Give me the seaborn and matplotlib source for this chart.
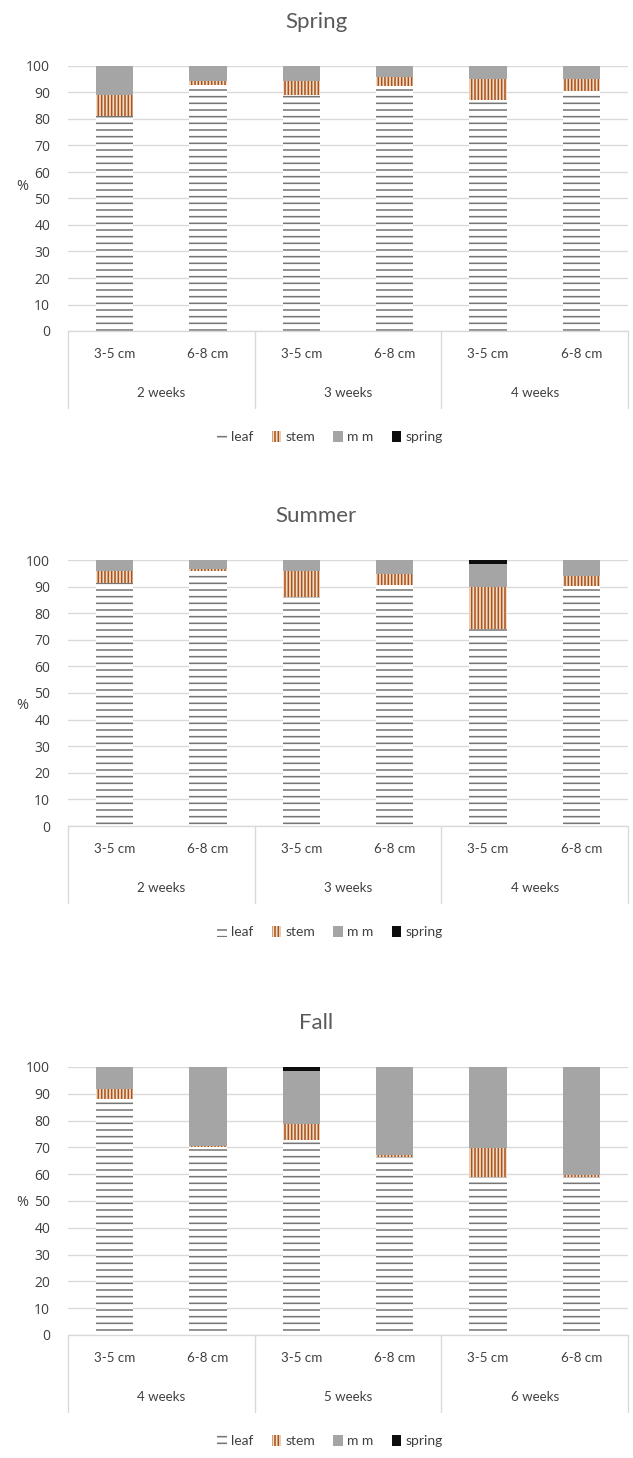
import pandas as pd
import seaborn as sns
from matplotlib import pyplot as plt
from matplotlib.patches import Patch
import matplotlib.transforms as mtransforms

# values (percent of each bar)
sizes = ["3-5 cm", "6-8 cm"]
spring_groups = ["2 weeks", "3 weeks", "4 weeks"]
summer_groups = ["2 weeks", "3 weeks", "4 weeks"]
fall_groups = ["4 weeks", "5 weeks", "6 weeks"]

spring_leaf = [81, 93, 89, 92.5, 87, 90.5]
spring_stem = [8, 1.3, 5.3, 3.5, 8, 4.5]
spring_mm = [11, 5.7, 5.7, 4, 5, 5]
spring_spring = [0, 0, 0, 0, 0, 0]

summer_leaf = [91.5, 96, 86, 90.5, 74.2, 90.3]
summer_stem = [4.5, 0.7, 10, 4.3, 15.5, 3.7]
summer_mm = [4, 3.3, 4, 5.2, 8.8, 6]
summer_spring = [0, 0, 0, 0, 1.5, 0]

fall_leaf = [88.2, 70.2, 72.7, 66.6, 59, 59]
fall_stem = [3.7, 0.3, 5.9, 0.6, 10.9, 0.6]
fall_mm = [8.1, 29.5, 19.9, 32.8, 30.1, 40.4]
fall_spring = [0, 0, 1.5, 0, 0, 0]

sns.set_style("white")
plt.rcParams['font.family'] = ['Lato', 'DejaVu Sans']
plt.rcParams['hatch.linewidth'] = 1.4

DPI = 80
W, H = 633, 1458
fig = plt.figure(figsize=(W / DPI, H / DPI), dpi=DPI)

grid_c = "#d9d9d9"
text_c = "#404040"

panels = [
    ("Spring", spring_groups, spring_leaf, spring_stem, spring_mm, spring_spring, 66, 331, 187),
    ("Summer", summer_groups, summer_leaf, summer_stem, summer_mm, summer_spring, 560, 826, 705),
    ("Fall", fall_groups, fall_leaf, fall_stem, fall_mm, fall_spring, 1067, 1335, 1202),
]

left_px, right_px = 68, 628

for title, groups, leaf, stem, mm, spr, top_px, bot_px, pct_y in panels:
    ax = fig.add_axes([left_px / W, 1 - bot_px / H, (right_px - left_px) / W, (bot_px - top_px) / H])
    labels = [g + " " + s for g in groups for s in sizes]
    df = pd.DataFrame({"bar": labels, "leaf": leaf, "stem": stem, "mm": mm, "spring": spr})
    df["c_stem"] = df["leaf"] + df["stem"]
    df["c_mm"] = df["c_stem"] + df["mm"]
    df["c_spring"] = df["c_mm"] + df["spring"]

    sns.barplot(data=df, x="bar", y="c_spring", color="#0d0d0d", saturation=1,
                width=0.4, linewidth=0, ax=ax)
    sns.barplot(data=df, x="bar", y="c_mm", color="#a5a5a5", saturation=1,
                width=0.4, linewidth=0, ax=ax)
    sns.barplot(data=df, x="bar", y="c_stem", color="#f2dcc6", saturation=1,
                width=0.4, linewidth=0, hatch="||||", edgecolor="#a9531c", ax=ax)
    sns.barplot(data=df, x="bar", y="leaf", color="white", saturation=1,
                width=0.4, linewidth=0, hatch="--", edgecolor="#767676", ax=ax)

    ax.set_ylim(0, 100)
    ax.set_xlim(-0.5, 5.5)
    ax.set_yticks(range(0, 101, 10))
    ax.yaxis.grid(True, color=grid_c, linewidth=1.2)
    ax.set_axisbelow(True)
    for sp in ax.spines.values():
        sp.set_visible(False)
    ax.set_xlabel("")
    ax.set_ylabel("")
    ax.set_xticks([])
    ax.tick_params(axis="y", length=0, pad=16, labelsize=12.5, labelcolor=text_c)
    for t in ax.get_yticklabels():
        t.set_fontfamily(['Open Sans', 'DejaVu Sans'])

    # two-level category axis drawn like a table
    h_px = bot_px - top_px
    trans = mtransforms.blended_transform_factory(ax.transData, ax.transAxes)
    ax.plot([-0.5, 5.5], [0, 0], color=grid_c, lw=1.2, transform=trans, clip_on=False)
    for xv in [-0.5, 1.5, 3.5, 5.5]:
        ax.plot([xv, xv], [0, -77 / h_px], color=grid_c, lw=1.2, transform=trans, clip_on=False)
    for i, lab in enumerate(labels):
        ax.text(i, -23 / h_px, sizes[i % 2], transform=trans, ha="center", va="center",
                fontsize=12, color=text_c)
    for j, g in enumerate(groups):
        ax.text(2 * j + 0.5, -62 / h_px, g, transform=trans, ha="center", va="center",
                fontsize=12, color=text_c)

    fig.text(316 / W, 1 - (top_px - 44) / H, title, ha="center", va="center",
             fontsize=20, color="#595959")
    fig.text(22 / W, 1 - pct_y / H, "%", ha="center", va="center", fontsize=13,
             color=text_c, family=['Open Sans', 'DejaVu Sans'])

    handles = [
        Patch(facecolor="white", edgecolor="#767676", hatch="--", lw=0, label="leaf"),
        Patch(facecolor="#f2dcc6", edgecolor="#a9531c", hatch="||||", lw=0, label="stem"),
        Patch(facecolor="#a5a5a5", lw=0, label="m m"),
        Patch(facecolor="#0d0d0d", lw=0, label="spring"),
    ]
    fig.legend(handles=handles, loc="center", bbox_to_anchor=(330 / W, 1 - (bot_px + 106) / H),
               ncol=4, frameon=False, fontsize=12.5, handlelength=0.7, handleheight=0.8,
               handletextpad=0.3, columnspacing=1.3, labelcolor=text_c)

fig.savefig("out.png", dpi=DPI)
